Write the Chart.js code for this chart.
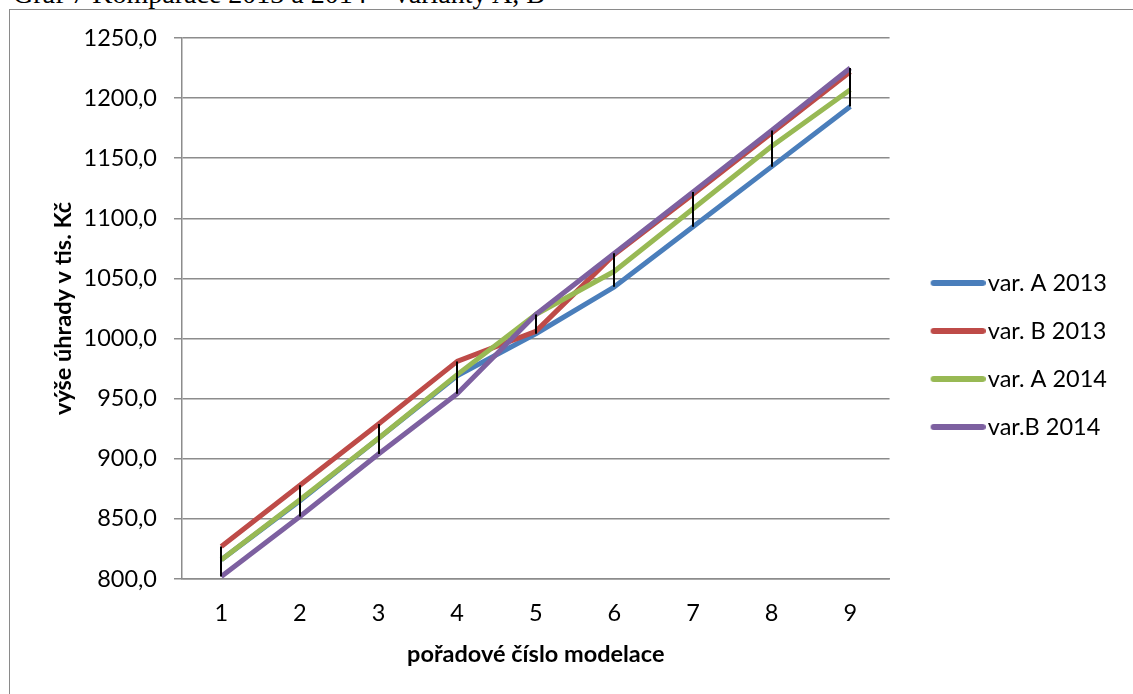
<!DOCTYPE html>
<html>
<head>
<meta charset="utf-8">
<script src="https://cdn.jsdelivr.net/npm/chart.js@4.4.1/dist/chart.umd.min.js"></script>
<style>
  body { margin: 0; background: #fff; overflow: hidden; }
  #caption { position: absolute; left: 13px; top: -20px; font: 28px/28px "Liberation Serif", serif; color: #000; white-space: nowrap; }
  #frame { position: absolute; left: 9px; top: 9px; width: 1200px; height: 760px; border: 1px solid #8a8a8a; }
  #wrap { position: absolute; left: 0; top: 0; width: 1133px; height: 694px; }
</style>
</head>
<body>
<div id="caption">Graf 7 Komparace 2013 a 2014 – varianty A, B</div>
<div id="frame"></div>
<div id="wrap"><canvas id="line-chart"></canvas></div>
<script>
var categories = ['1', '2', '3', '4', '5', '6', '7', '8', '9'];
var varA2013 = [816, 865, 917, 969, 1004, 1043, 1093, 1143, 1193];
var varB2013 = [827, 878, 929, 981, 1006, 1070, 1120, 1171, 1222];
var varA2014 = [816, 866, 917, 970, 1020, 1056, 1108, 1160, 1207];
var varB2014 = [802, 852, 904, 954, 1020, 1071, 1122, 1173, 1225];
var yMin = 800, yMax = 1250, yStep = 50;

var fontFamily = 'Lato, "Open Sans", sans-serif';
var fontSize = 23.5;
var gridColor = '#8c8c8c';

// black high-low lines at every category, like Excel
var highLowLines = {
    id: 'highLowLines',
    afterDatasetsDraw: function (chart) {
        var ctx = chart.ctx;
        var x = chart.scales.x, y = chart.scales.y;
        ctx.save();
        ctx.strokeStyle = '#000';
        ctx.lineWidth = 2;
        categories.forEach(function (c, i) {
            var vals = chart.data.datasets.map(function (d) { return d.data[i]; });
            var px = Math.round(x.getPixelForValue(i));
            ctx.beginPath();
            ctx.moveTo(px, y.getPixelForValue(Math.max.apply(null, vals)));
            ctx.lineTo(px, y.getPixelForValue(Math.min.apply(null, vals)));
            ctx.stroke();
        });
        ctx.restore();
    }
};

// legend symbol: short thick line with some empty space before it
function legendSymbol(color) {
    var c = document.createElement('canvas');
    c.width = 81;
    c.height = 6;
    var g = c.getContext('2d');
    g.strokeStyle = color;
    g.lineWidth = 6;
    g.lineCap = 'round';
    g.beginPath();
    g.moveTo(29, 3);
    g.lineTo(78, 3);
    g.stroke();
    return c;
}

function series(label, data, color, order) {
    return {
        label: label,
        data: data,
        borderColor: color,
        backgroundColor: color,
        borderWidth: 5,
        pointRadius: 0,
        tension: 0,
        borderJoinStyle: 'round',
        order: order
    };
}

var ctx = document.getElementById('line-chart');
var chart = new Chart(ctx, {
    type: 'line',
    data: {
        labels: categories,
        datasets: [
            series('var. A 2013', varA2013, '#4a7ebb', 3),
            series('var. B 2013', varB2013, '#be4b48', 2),
            series('var. A 2014', varA2014, '#98b954', 1),
            series('var.B 2014', varB2014, '#7d60a0', 0)
        ]
    },
    options: {
        responsive: true,
        maintainAspectRatio: false,
        animation: false,
        layout: { padding: { left: 20, right: 16, top: 16, bottom: 0 } },
        plugins: {
            tooltip: { enabled: false },
            title: { display: true, text: '', font: { size: 10, lineHeight: 1 }, padding: { top: 0, bottom: 12 } },
            legend: {
                position: 'right',
                labels: {
                    color: '#000',
                    font: { family: fontFamily, size: fontSize },
                    usePointStyle: true,
                    pointStyleWidth: 62,
                    padding: 24.5,
                    sort: function (a, b) { return a.datasetIndex - b.datasetIndex; },
                    generateLabels: function (chart) {
                        return Chart.defaults.plugins.legend.labels.generateLabels(chart).map(function (item) {
                            item.pointStyle = legendSymbol(item.strokeStyle);
                            item.lineWidth = 0;
                            return item;
                        });
                    }
                }
            }
        },
        scales: {
            x: {
                offset: true,
                grid: { display: false, drawTicks: false },
                border: { display: true, color: gridColor, width: 1.5 },
                ticks: { color: '#000', font: { family: fontFamily, size: fontSize }, padding: 20, maxRotation: 0 },
                title: {
                    display: true,
                    text: 'pořadové číslo modelace',
                    color: '#000',
                    font: { family: fontFamily, size: fontSize, weight: 'bold' },
                    padding: { top: 10, bottom: 25 }
                },
                afterFit: function (s) { s.height = 115; }
            },
            y: {
                min: yMin,
                max: yMax,
                grid: { color: gridColor, lineWidth: 1.5, tickLength: 8 },
                border: { display: true, color: gridColor, width: 1.5 },
                ticks: {
                    stepSize: yStep,
                    color: '#000',
                    font: { family: fontFamily, size: fontSize },
                    padding: 17,
                    callback: function (v) { return v.toFixed(1).replace('.', ','); }
                },
                title: {
                    display: true,
                    text: 'výše úhrady v tis. Kč',
                    color: '#000',
                    font: { family: fontFamily, size: fontSize, weight: 'bold' },
                    padding: { top: 29, bottom: 10 }
                },
                afterFit: function (s) { s.width = 162; }
            }
        }
    },
    plugins: [highLowLines]
});
</script>
</body>
</html>
